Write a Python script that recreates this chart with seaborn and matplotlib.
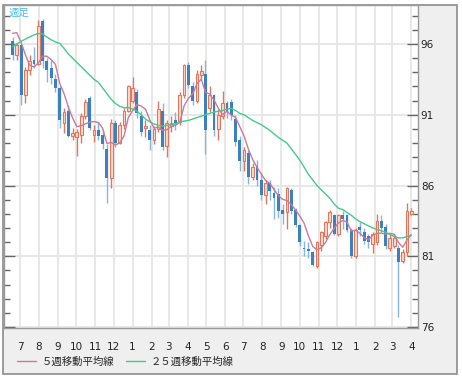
import pandas as pd
import seaborn as sns
import matplotlib.pyplot as plt
import matplotlib.dates as mdates
from matplotlib.ticker import MultipleLocator, FixedLocator, FixedFormatter
from matplotlib.patches import Rectangle
from matplotlib.lines import Line2D

# weekly candles (USD/JPY style)
opens = [96.2, 95.2, 95.9, 92.4, 94.2, 94.9, 94.6, 97.6, 94.8, 94.3,
         93.5, 92.9, 90.4, 91.3, 89.5, 89.4, 89.6, 90.9, 92.2, 89.6,
         89.9, 89.6, 88.6, 86.5, 90.4, 89.0, 90.3, 91.3, 92.0, 92.6,
         90.9, 90.1, 89.9, 89.2, 90.0, 91.3, 88.8, 90.2, 90.6, 90.5,
         92.4, 94.5, 93.0, 92.0, 93.8, 93.9, 91.5, 92.4, 90.0, 90.9,
         91.8, 91.9, 90.7, 89.2, 87.7, 88.3, 86.6, 87.4, 86.4, 85.3,
         86.2, 85.5, 85.4, 84.3, 84.1, 85.7, 84.3, 83.2, 81.6, 81.5,
         81.3, 80.3, 81.8, 82.4, 83.4, 83.9, 82.6, 83.9, 83.9, 82.85,
         81.0, 83.1, 82.7, 82.4, 81.9, 82.0, 83.5, 83.1, 81.6, 81.7,
         81.6, 80.7, 81.3, 84.0]
highs = [96.5, 96.1, 96.0, 94.4, 95.2, 95.8, 97.7, 97.8, 95.0, 94.9,
         93.9, 93.0, 91.5, 91.7, 90.1, 90.0, 91.1, 92.1, 92.3, 90.3,
         90.5, 89.9, 88.9, 90.7, 90.6, 90.5, 91.5, 93.1, 93.7, 92.8,
         91.3, 90.6, 90.3, 90.2, 92.0, 91.8, 90.6, 90.9, 91.2, 92.6,
         94.6, 94.7, 93.3, 94.2, 94.5, 94.9, 93.0, 92.5, 91.4, 92.7,
         92.0, 92.1, 91.0, 89.5, 88.7, 88.5, 87.6, 87.8, 86.9, 86.4,
         86.4, 85.9, 85.8, 84.7, 85.9, 85.8, 84.4, 83.3, 82.1, 82.0,
         81.4, 82.1, 82.8, 83.5, 84.3, 84.0, 84.0, 84.2, 84.0, 83.0,
         83.0, 83.4, 83.0, 82.6, 82.7, 84.0, 83.9, 83.3, 82.6, 82.6,
         81.8, 81.5, 84.8, 84.4]
lows = [94.9, 94.9, 91.7, 91.8, 93.8, 94.3, 94.5, 94.3, 93.3, 93.2,
        92.6, 90.1, 89.7, 89.4, 89.2, 88.1, 89.0, 90.7, 89.9, 89.1,
        89.2, 88.6, 84.8, 85.8, 88.7, 88.9, 90.0, 91.2, 91.8, 90.8,
        89.5, 89.4, 88.5, 88.9, 89.8, 88.5, 88.0, 89.8, 89.9, 90.3,
        92.2, 92.9, 91.7, 91.8, 93.5, 88.2, 91.2, 89.5, 89.2, 90.7,
        90.8, 90.6, 88.8, 87.0, 87.0, 86.1, 86.4, 86.0, 85.0, 84.7,
        85.0, 83.6, 83.7, 83.3, 82.9, 84.0, 83.1, 81.7, 81.0, 80.9,
        80.3, 80.2, 81.4, 82.2, 83.0, 82.5, 82.4, 82.9, 82.7, 80.9,
        80.9, 82.4, 81.9, 81.6, 81.2, 81.8, 82.7, 81.5, 81.4, 81.6,
        76.7, 80.5, 81.0, 83.9]
closes = [95.2, 95.9, 92.4, 94.2, 94.8, 94.6, 97.3, 94.8, 94.2, 93.6,
          92.9, 90.6, 91.2, 89.5, 89.7, 89.8, 90.9, 91.9, 90.1, 89.9,
          89.5, 88.9, 86.5, 90.4, 89.0, 90.3, 91.3, 93.0, 92.9, 91.1,
          89.8, 90.2, 89.2, 90.0, 91.4, 88.7, 90.4, 90.4, 90.4, 92.4,
          94.5, 93.1, 92.0, 93.9, 94.1, 89.9, 92.4, 89.9, 91.0, 91.8,
          91.2, 91.0, 89.1, 87.7, 88.5, 86.6, 87.3, 86.4, 85.3, 86.2,
          85.6, 85.1, 84.2, 84.0, 85.8, 84.2, 83.2, 82.0, 81.5, 81.4,
          80.4, 82.0, 82.7, 83.4, 84.15, 82.6, 83.9, 83.6, 82.85, 81.0,
          82.85, 82.85, 82.1, 82.0, 82.6, 83.5, 83.0, 81.7, 82.3, 82.3,
          80.6, 81.3, 84.2, 84.2]
# closes of the 4 weeks before the first candle (only feed the 5-week average)
pre_closes = [95.7, 95.9, 98.5, 98.5]
ma25 = [95.8, 96.0, 96.2, 96.35, 96.5, 96.65, 96.75, 96.7, 96.5, 96.3,
        96.15, 96.05, 95.7, 95.3, 95.0, 94.7, 94.4, 94.1, 93.8, 93.5,
        93.3, 92.9, 92.5, 92.1, 91.8, 91.6, 91.5, 91.5, 91.4, 91.25,
        91.0, 90.7, 90.5, 90.35, 90.25, 90.2, 90.25, 90.3, 90.35, 90.5,
        90.55, 90.6, 90.7, 90.8, 90.9, 91.0, 91.1, 91.2, 91.25, 91.3,
        91.4, 91.45, 91.3, 91.1, 91.0, 90.8, 90.6, 90.45, 90.3, 90.1,
        89.9, 89.65, 89.4, 89.2, 89.0, 88.6, 88.2, 87.8, 87.3, 86.8,
        86.4, 86.0, 85.7, 85.4, 85.1, 84.7, 84.4, 84.3, 84.1, 83.9,
        83.65, 83.45, 83.3, 83.15, 83.0, 82.9, 82.8, 82.7, 82.55, 82.4,
        82.3, 82.3, 82.4, 82.5]

weeks = pd.date_range('2009-06-19', periods=len(closes), freq='7D')
df = pd.DataFrame({'date': weeks, 'open': opens, 'high': highs,
                   'low': lows, 'close': closes, 'ma25': ma25})
df['ma5'] = pd.Series(pre_closes + closes).rolling(5).mean().iloc[4:].values

UP_EDGE = '#e2775c'
UP_FILL = '#f9dbd0'
DOWN = '#3c80c0'
DOWN_WICK = '#86b6e0'
MA5_C = '#c97a9e'
MA25_C = '#46c98c'

sns.set_style('white')
plt.rcParams['font.family'] = ['Noto Sans CJK JP', 'DejaVu Sans']

fig = plt.figure(figsize=(4.62, 3.76), dpi=100, facecolor='white')
W, H = 462, 376
# grey widget frame behind everything
fig.patches.append(Rectangle((3 / W, 2 / H), 454 / W, 369 / H, transform=fig.transFigure,
                             facecolor='#efefef', edgecolor='#8c8c8c', lw=1.2, zorder=-10))
ax = fig.add_axes([4 / W, 48 / H, 414 / W, 323 / H])
ax.set_zorder(1)
ax.set_facecolor('white')

x = mdates.date2num(df['date'])
up = df['close'] >= df['open']
dn = ~up
ax.vlines(x[up], df['low'][up], df['high'][up], color=UP_EDGE, lw=1, zorder=2)
ax.vlines(x[dn], df['low'][dn], df['high'][dn], color=DOWN_WICK, lw=1, zorder=2)
ax.bar(x[up], (df['close'] - df['open'])[up], bottom=df['open'][up], width=4.6,
       facecolor=UP_FILL, edgecolor=UP_EDGE, lw=0.8, zorder=3)
ax.bar(x[dn], (df['open'] - df['close'])[dn], bottom=df['close'][dn], width=4.6,
       facecolor=DOWN, edgecolor='none', zorder=3)

sns.lineplot(data=df, x='date', y='ma5', ax=ax, color=MA5_C, lw=1, zorder=4)
sns.lineplot(data=df, x='date', y='ma25', ax=ax, color=MA25_C, lw=1, zorder=4)

ax.set_xlim(pd.Timestamp('2009-06-05'), pd.Timestamp('2011-04-12'))
ax.set_ylim(75.93, 98.76)
ax.set_xlabel('')
ax.set_ylabel('')

month_starts = pd.date_range('2009-07-01', '2011-04-01', freq='MS')
ax.xaxis.set_major_locator(FixedLocator(mdates.date2num(month_starts)))
ax.xaxis.set_major_formatter(FixedFormatter([str(d.month) for d in month_starts]))
ax.yaxis.set_major_locator(FixedLocator([76, 81, 86, 91, 96]))
ax.yaxis.set_minor_locator(MultipleLocator(1))
ax.tick_params(axis='y', which='both', direction='in', left=True, right=True,
               labelleft=False, labelright=True, colors='#666', labelcolor='#222',
               labelsize=7.5, pad=2)
ax.tick_params(axis='y', which='major', length=8, width=1)
ax.tick_params(axis='y', which='minor', length=4.5, width=1)
ax.tick_params(axis='x', which='major', length=0, labelsize=7.5, labelcolor='#222', pad=10)
for lab in ax.get_yticklabels() + ax.get_xticklabels():
    lab.set_family('DejaVu Sans')

ax.grid(True, which='major', color='#e6e6e6', lw=1.3)
ax.set_axisbelow(True)
for s in ax.spines.values():
    s.set_color('#9a9a9a')
    s.set_linewidth(1)

fig.text(9 / W, 1 - 13 / H, '週足', color='#48bff0', fontsize=7.5, va='center', zorder=5)

handles = [Line2D([], [], color=MA5_C, lw=1), Line2D([], [], color=MA25_C, lw=1)]
fig.legend(handles, ['５週移動平均線', '２５週移動平均線'], loc='center left',
           bbox_to_anchor=(8 / W, 1 - 362 / H), ncol=2, frameon=False, fontsize=7.5,
           handlelength=1.8, handletextpad=0.5, columnspacing=1.2)

fig.savefig('out.png', dpi=100, facecolor='white')
